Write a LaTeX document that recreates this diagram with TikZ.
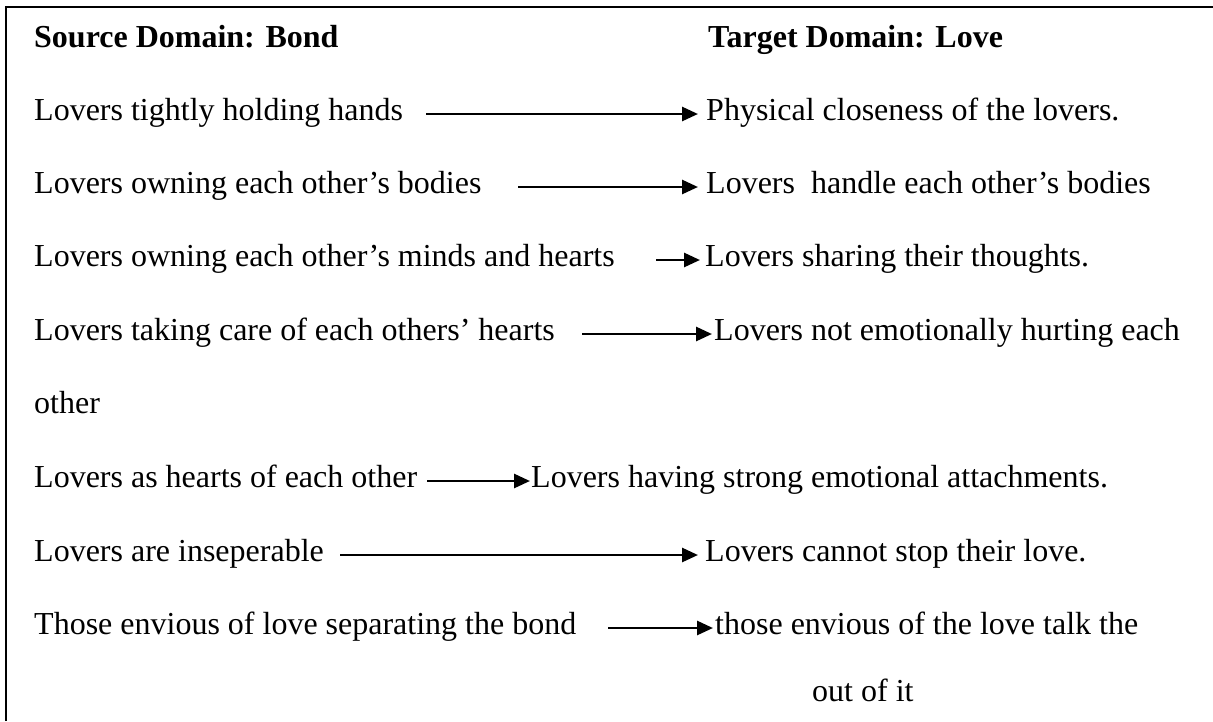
\documentclass[tikz,border=0pt]{standalone}
\usepackage{fontspec}
\setmainfont{Liberation Serif}
\usetikzlibrary{arrows.meta}
\begin{document}
\begin{tikzpicture}[x=1pt,y=-1pt,
  txt/.style={anchor=base west, inner sep=0pt, font=\fontsize{32}{38}\selectfont},
  head/.style={txt, font=\fontsize{32}{38}\selectfont\bfseries},
  arr/.style={line width=2.7pt, -{Triangle[length=16pt,width=14pt]}},
  frame/.style={line width=2.5pt}]
\useasboundingbox (0,0) rectangle (1213,721);
% open frame: left and top edges only
\draw[frame] (6,721) -- (6,7) -- (1213,7);

% column headings
\node[head] (sh) at (34,47) {Source Domain: Bond};
\node[head] (th) at (708,47) {Target Domain: Love};

% source side
\node[txt] (s1) at (34,120) {Lovers tightly holding hands};
\node[txt] (s2) at (34,193) {Lovers owning each other’s bodies};
\node[txt] (s3) at (34,266) {Lovers owning each other’s minds and hearts};
\node[txt] (s4) at (34,340) {Lovers taking care of each others’ hearts};
\node[txt] (s4b) at (34,413) {other};
\node[txt] (s5) at (34,487) {Lovers as hearts of each other};
\node[txt] (s6) at (34,561) {Lovers are inseperable};
\node[txt] (s7) at (34,634) {Those envious of love separating the bond};

% target side
\node[txt] (t1) at (706,120) {Physical closeness of the lovers.};
\node[txt] (t2) at (706,193) {Lovers\ \ handle each other’s bodies};
\node[txt] (t3) at (705,266) {Lovers sharing their thoughts.};
\node[txt] (t4) at (714,340) {Lovers not emotionally hurting each};
\node[txt] (t5) at (531,487) {Lovers having strong emotional attachments.};
\node[txt] (t6) at (705,561) {Lovers cannot stop their love.};
\node[txt] (t7) at (715,634) {those envious of the love talk the};
\node[txt] (t7b) at (812,701) {out of it};

% arrow tails
\coordinate (a1) at (426,114);
\coordinate (a2) at (518,187);
\coordinate (a3) at (656,260);
\coordinate (a4) at (582,334);
\coordinate (a5) at (427,481);
\coordinate (a6) at (340,555);
\coordinate (a7) at (608,628);

\draw[arr, shorten >=8pt] (a1) -- (a1 -| t1.west);
\draw[arr, shorten >=8pt] (a2) -- (a2 -| t2.west);
\draw[arr, shorten >=5pt] (a3) -- (a3 -| t3.west);
\draw[arr, shorten >=2pt] (a4) -- (a4 -| t4.west);
\draw[arr, shorten >=1pt] (a5) -- (a5 -| t5.west);
\draw[arr, shorten >=7pt] (a6) -- (a6 -| t6.west);
\draw[arr, shorten >=2pt] (a7) -- (a7 -| t7.west);
\end{tikzpicture}
\end{document}
